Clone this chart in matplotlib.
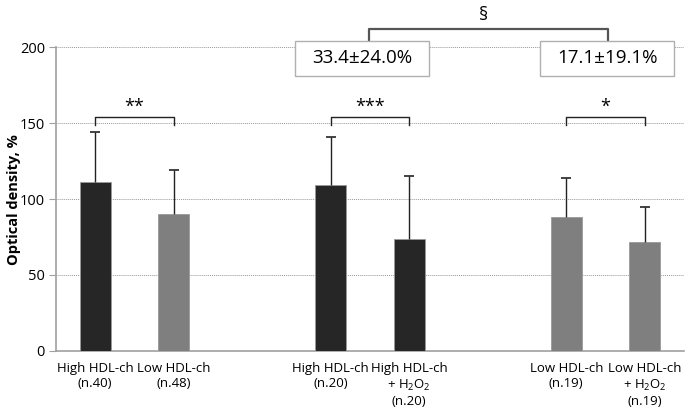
import matplotlib
matplotlib.use("Agg")
import matplotlib.pyplot as plt
from matplotlib.patches import Rectangle

plt.rcParams['font.family'] = ['Open Sans', 'DejaVu Sans']
plt.rcParams['mathtext.fontset'] = 'custom'
plt.rcParams['mathtext.rm'] = 'Open Sans'
plt.rcParams['mathtext.it'] = 'Open Sans'

positions = [0, 1, 3, 4, 6, 7]
labels = ["High HDL-ch\n(n.40)", "Low HDL-ch\n(n.48)",
          "High HDL-ch\n(n.20)", "High HDL-ch\n+ H$_2$O$_2$\n(n.20)",
          "Low HDL-ch\n(n.19)", "Low HDL-ch\n+ H$_2$O$_2$\n(n.19)"]
means = [111, 90, 109, 74, 88, 72]
sds = [33, 29, 32, 41, 26, 23]
colors = ["#262626", "#7f7f7f", "#262626", "#262626", "#7f7f7f", "#7f7f7f"]
sig_pairs = [(0, 1, "**"), (2, 3, "***"), (4, 5, "*")]
box_texts = ["33.4\u00b124.0%", "17.1\u00b119.1%"]
box_x = [3.4, 6.52]

fig = plt.figure(figsize=(6.85, 4.11), dpi=100)
ax = fig.add_axes([56/685, 1-351/411, 628/685, 304/411])
ax.set_xlim(-0.5, 7.5)
ax.set_ylim(0, 200)

ax.bar(positions, means, width=0.4, color=colors, edgecolor="#9a9a9a", linewidth=0.6, zorder=3)
tops = [m + s for m, s in zip(means, sds)]
ax.vlines(positions, means, tops, color="#222222", lw=1.0, zorder=4)
ax.plot(positions, tops, ls="none", marker="_", markersize=7, markeredgewidth=1.2, color="#222222", zorder=4)

ax.set_yticks([0, 50, 100, 150, 200])
ax.yaxis.grid(True, linestyle=(0, (1, 1)), color="#999999", linewidth=0.7, zorder=0)
ax.set_xticks(positions)
ax.set_xticklabels(labels, fontsize=9.5, linespacing=1.22, va="top")
ax.tick_params(axis="x", length=0, pad=8)
ax.tick_params(axis="y", length=5, color="#a0a0a0", labelsize=10.5, pad=3)
for s in ["top", "right"]:
    ax.spines[s].set_visible(False)
for s in ["left", "bottom"]:
    ax.spines[s].set_color("#a0a0a0")
    ax.spines[s].set_linewidth(1.2)
fig.text(14/685, 1-200/411, "Optical density, %", rotation=90, ha="center", va="center",
         fontsize=10.5, fontweight="bold")

for a, b, t in sig_pairs:
    xa, xb = positions[a], positions[b]
    ax.plot([xa, xa, xb, xb], [149, 154, 154, 149], color="#222222", lw=1.0, clip_on=False, zorder=5)
    ax.text((xa + xb) / 2, 155, t, ha="center", va="bottom", fontsize=13)

ax.plot([3.49, 3.49, 6.53, 6.53], [204, 212, 212, 204], color="#555555", lw=1.6, clip_on=False, zorder=5)
ax.text(4.94, 221, "\u00a7", ha="center", va="center", fontsize=13)

for x, t in zip(box_x, box_texts):
    ax.add_patch(Rectangle((x - 0.855, 181), 1.71, 23, facecolor="white", edgecolor="#b0b0b0",
                           linewidth=1.0, clip_on=False, zorder=6))
    ax.text(x, 192.5, t, ha="center", va="center", fontsize=13.5, zorder=7)

fig.savefig("out.png", dpi=100)
